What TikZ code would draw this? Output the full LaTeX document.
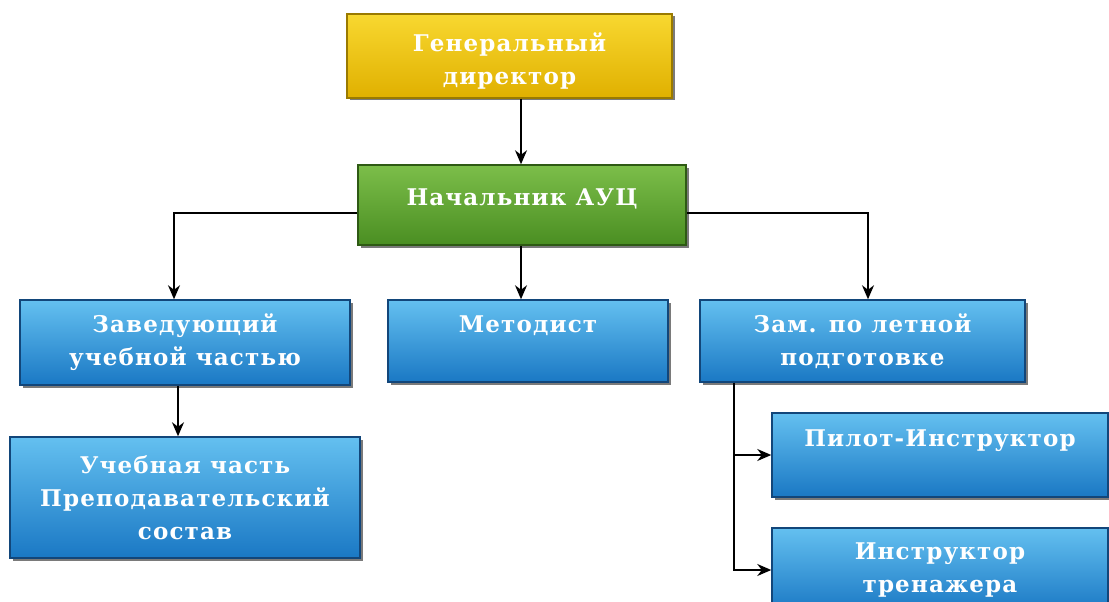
\documentclass[tikz,border=0pt]{standalone}
\usepackage{fontspec}
\setmainfont{DejaVu Serif}
\newfontfamily\boxfont[LetterSpace=5]{DejaVu Serif}
\usetikzlibrary{arrows.meta,shadows,calc}
\definecolor{yelTop}{HTML}{F8D830}
\definecolor{yelMid}{HTML}{F4C600}
\definecolor{yelBot}{HTML}{E0B000}
\definecolor{yelEdge}{HTML}{9A7A00}
\definecolor{grnTop}{HTML}{7CBE4A}
\definecolor{grnMid}{HTML}{62AC32}
\definecolor{grnBot}{HTML}{4A8E22}
\definecolor{grnEdge}{HTML}{2E5A14}
\definecolor{bluTop}{HTML}{64C0F0}
\definecolor{bluMid}{HTML}{2290DC}
\definecolor{bluBot}{HTML}{1A78C4}
\definecolor{bluEdge}{HTML}{12467A}
\begin{document}
\begin{tikzpicture}[x=1pt,y=-1pt,
  box/.style={rectangle, align=center, text=white, font=\boxfont\bfseries\fontsize{23}{33}\selectfont,
    inner sep=2pt, draw=#1Edge, line width=1.5pt, top color=#1Top, middle color=#1Mid, bottom color=#1Bot,
    drop shadow={shadow xshift=2.5pt, shadow yshift=-2.5pt, fill=black!65, opacity=0.8}},
  yel/.style={box=yel},
  grn/.style={box=grn},
  blu/.style={box=blu},
  conn/.style={draw=black, line width=1.8pt, -{Stealth[length=14pt,width=12pt]}}
]
\useasboundingbox (0,0) rectangle (1109,602);
\begin{scope}
\clip (0,0) rectangle (1109,602);
\node[yel, minimum width=325pt, minimum height=84pt] (gen) at (509.5,56) {\rule{0pt}{29pt}Генеральный\\директор};
\node[grn, minimum width=328pt, minimum height=80pt] (nach) at (522,205) {Начальник АУЦ\\[-17pt]~};
\node[blu, minimum width=330pt, minimum height=85pt] (zav) at (185,342.5) {Заведующий\\учебной частью};
\node[blu, minimum width=280pt, minimum height=82pt] (met) at (528,341) {Методист\\~};
\node[blu, minimum width=325pt, minimum height=82pt] (zam) at (862.5,341) {Зам. по летной\\подготовке};
\node[blu, minimum width=350pt, minimum height=121pt] (ucheb) at (185,497.5) {Учебная часть\\Преподавательский\\состав};
\node[blu, minimum width=336pt, minimum height=84pt] (pilot) at (940,455) {Пилот-Инструктор\\~};
\node[blu, minimum width=336pt, minimum height=84pt] (tren) at (940,570) {Инструктор\\тренажера};
\end{scope}
\coordinate (nl) at ($(nach.west)+(0,8)$);
\coordinate (nr) at ($(nach.east)+(0,8)$);
\coordinate (zl) at ($(zam.south west)+(35,0)$);
\draw[conn] (gen.south -| 521,0) -- (nach.north -| 521,0);
\draw[conn] (nach.south -| 521,0) -- (met.north -| 521,0);
\draw[conn] (nl) -| (zav.north -| 174,0);
\draw[conn] (nr) -| (zam.north -| 868,0);
\draw[conn] (zav.south -| 178,0) -- (ucheb.north -| 178,0);
\draw[conn] (zl) |- (pilot.west);
\draw[conn] (zl) |- (tren.west);
\end{tikzpicture}
\end{document}
